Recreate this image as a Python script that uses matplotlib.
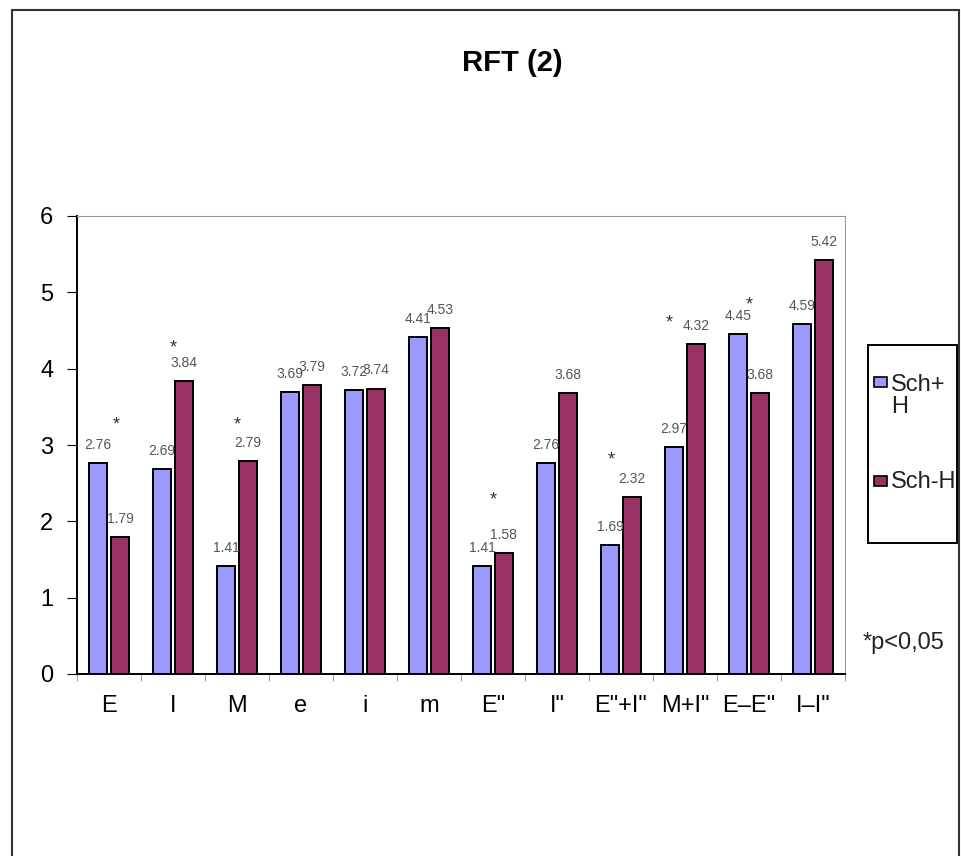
import matplotlib.pyplot as plt
import numpy as np
from matplotlib.patches import Rectangle

plt.rcParams['font.family'] = ['Liberation Sans', 'DejaVu Sans']

# dados
categorias = ['E', 'I', 'M', 'e', 'i', 'm', 'E"', 'I"', 'E"+I"', 'M+I"', 'E–E"', 'I–I"']
sch_mais_h = [2.76, 2.69, 1.41, 3.69, 3.72, 4.41, 1.41, 2.76, 1.69, 2.97, 4.45, 4.59]
sch_menos_h = [1.79, 3.84, 2.79, 3.79, 3.74, 4.53, 1.58, 3.68, 2.32, 4.32, 3.68, 5.42]
series = ['Sch+\nH', 'Sch-H']

# asteriscos (p<0,05): categoria, altura
estrela_cat = [0, 1, 2, 6, 8, 9, 10]
estrela_y = [3.26, 4.27, 3.26, 2.28, 2.80, 4.60, 4.84]
estrela_dx = [0.12, 0.0, 0.0, 0.0, -0.16, -0.25, 0.0]

cor_azul = '#9999FF'
cor_vinho = '#993366'

W, H = 961, 856
fig = plt.figure(figsize=(W / 100, H / 100), dpi=100)
ax = fig.add_axes([77 / W, 1 - 674 / H, 768 / W, 458 / H])


def px(x, y):
    # pixel (topo-esquerda) -> coordenadas da figura
    return x / W, 1 - y / H


x = np.arange(len(categorias))
larg = 0.28
b1 = ax.bar(x - 0.17, sch_mais_h, larg, color=cor_azul, edgecolor='black', linewidth=1.4)
b2 = ax.bar(x + 0.17, sch_menos_h, larg, color=cor_vinho, edgecolor='black', linewidth=1.4)

# rotulos de valor
for barras, vals in ((b1, sch_mais_h), (b2, sch_menos_h)):
    for r, v in zip(barras, vals):
        ax.annotate(f'{v:.2f}', (r.get_x() + r.get_width() / 2, v),
                    xytext=(0, 13), textcoords='offset points',
                    ha='center', va='center', fontsize=10, color='#555555')

for c, y, dx in zip(estrela_cat, estrela_y, estrela_dx):
    ax.text(c + dx, y, '*', ha='center', va='center', fontsize=13, color='#333333')

ax.set_xlim(-0.5, len(categorias) - 0.5)
ax.set_ylim(0, 6)
ax.set_yticks(range(0, 7))
ax.set_xticks(x)
ax.set_xticklabels(categorias)
ax.set_xticks(np.arange(-0.5, len(categorias)), minor=True)
ax.tick_params(axis='x', which='major', length=0, pad=15, labelsize=17)
ax.tick_params(axis='x', which='minor', length=5, direction='out', color='#888888')
ax.tick_params(axis='y', length=7, direction='out', labelsize=17, pad=10)

ax.spines['left'].set_linewidth(1.4)
ax.spines['bottom'].set_linewidth(1.4)
ax.spines['top'].set_color('#999999')
ax.spines['right'].set_color('#999999')

fig.text(*px(512, 63), 'RFT (2)', ha='center', va='center',
         fontsize=21, fontweight='bold')

# legenda
x0, y0 = px(868, 543)
x1, y1 = px(957, 345)
fig.patches.append(Rectangle((x0, y0), x1 - x0, y1 - y0, transform=fig.transFigure,
                             fill=False, edgecolor='black', linewidth=1.4))
for cor, nome, ytxt, yq in ((cor_azul, series[0], 396, 382), (cor_vinho, series[1], 482, 481)):
    qx, qy = px(874, yq + 5)
    fig.patches.append(Rectangle((qx, qy), 13 / W, 10 / H, transform=fig.transFigure,
                                 facecolor=cor, edgecolor='black', linewidth=1.2))
    fig.text(*px(891, ytxt), nome, ha='left', va='center', fontsize=17,
             linespacing=0.95, color='#222222')

fig.text(*px(863, 643), '*p<0,05', ha='left', va='center', fontsize=17, color='#222222')

# moldura
fig.patches.append(Rectangle((12 / W, -0.01), 947 / W, 1 - 10 / H + 0.01,
                             transform=fig.transFigure, fill=False,
                             edgecolor='#333333', linewidth=1.5))

fig.savefig('out.png', dpi=100)
